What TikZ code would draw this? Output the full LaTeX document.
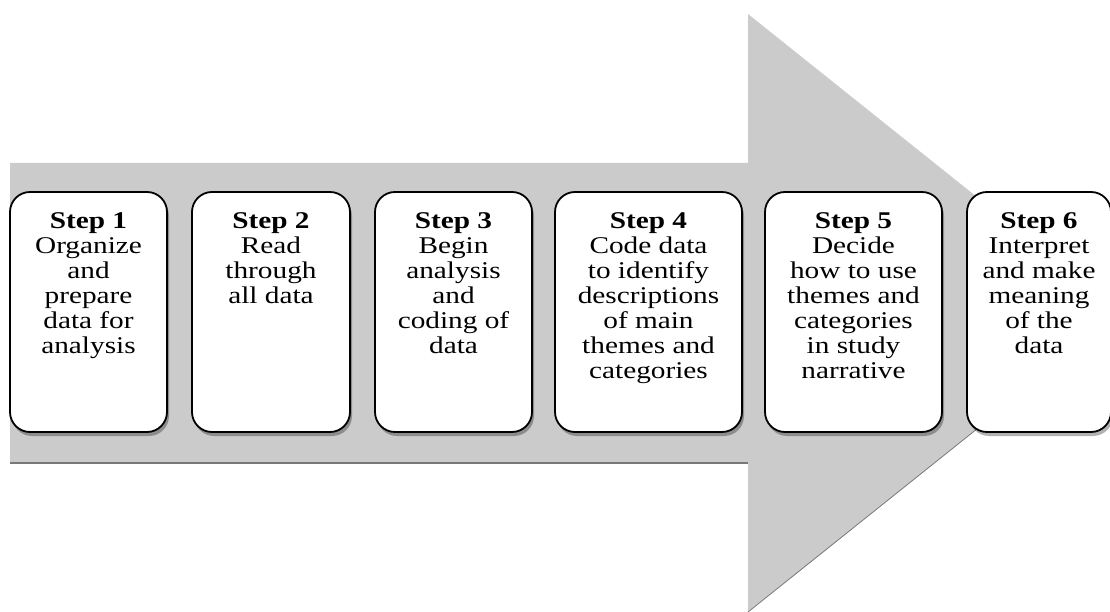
\documentclass[tikz,border=0pt]{standalone}
\usepackage{fontspec}
\newfontfamily\stepfont[FakeStretch=1.22]{Liberation Serif}
\usetikzlibrary{shadows}
\definecolor{arrowgray}{RGB}{203,203,203}
\definecolor{edgegray}{RGB}{120,120,120}
\begin{document}
\begin{tikzpicture}[x=1pt,y=-1pt,
  stepbox/.style={draw=black, line width=1.8pt, fill=white, rounded corners=20pt,
    minimum height=240pt, inner sep=0pt,
    drop shadow={shadow xshift=2pt, shadow yshift=-4pt, opacity=0.3, fill=black}},
  steptext/.style={anchor=north, align=center, inner sep=0pt,
    font=\stepfont\fontsize{24}{25}\selectfont}]
\useasboundingbox (0,0) rectangle (1110,612);
\clip (0,0) rectangle (1110,612);
% big arrow
\fill[arrowgray] (10,163) -- (748,163) -- (748,14) -- (1122,313) -- (748,612)
  -- (748,463) -- (10,463) -- cycle;
\coordinate (shaftL) at (10,463);
\coordinate (shaftR) at (748,463);
\coordinate (headB) at (748,612);
\coordinate (tip) at (1122,313);
\draw[edgegray, line width=1.2pt] (shaftL) -- (shaftR);
\draw[edgegray, line width=0.8pt] (headB) -- (tip);
% boxes
\node[stepbox, minimum width=157pt] (b1) at (88.5,312) {};
\node[stepbox, minimum width=158pt] (b2) at (271,312) {};
\node[stepbox, minimum width=157pt] (b3) at (453.5,312) {};
\node[stepbox, minimum width=187pt] (b4) at (648.5,312) {};
\node[stepbox, minimum width=177pt] (b5) at (853.5,312) {};
\node[stepbox, minimum width=144pt] (b6) at (1039,312) {};
% texts
\node[steptext] (t1) at ([yshift=-21pt]b1.north) {\textbf{Step 1}\\Organize\\and\\prepare\\data for\\analysis};
\node[steptext] (t2) at ([yshift=-21pt]b2.north) {\textbf{Step 2}\\Read\\through\\all data};
\node[steptext] (t3) at ([yshift=-21pt]b3.north) {\textbf{Step 3}\\Begin\\analysis\\and\\coding of\\data};
\node[steptext] (t4) at ([yshift=-21pt]b4.north) {\textbf{Step 4}\\Code data\\to identify\\descriptions\\of main\\themes and\\categories};
\node[steptext] (t5) at ([yshift=-21pt]b5.north) {\textbf{Step 5}\\Decide\\how to use\\themes and\\categories\\in study\\narrative};
\node[steptext] (t6) at ([yshift=-21pt]b6.north) {\textbf{Step 6}\\Interpret\\and make\\meaning\\of the\\data};
\end{tikzpicture}
\end{document}
